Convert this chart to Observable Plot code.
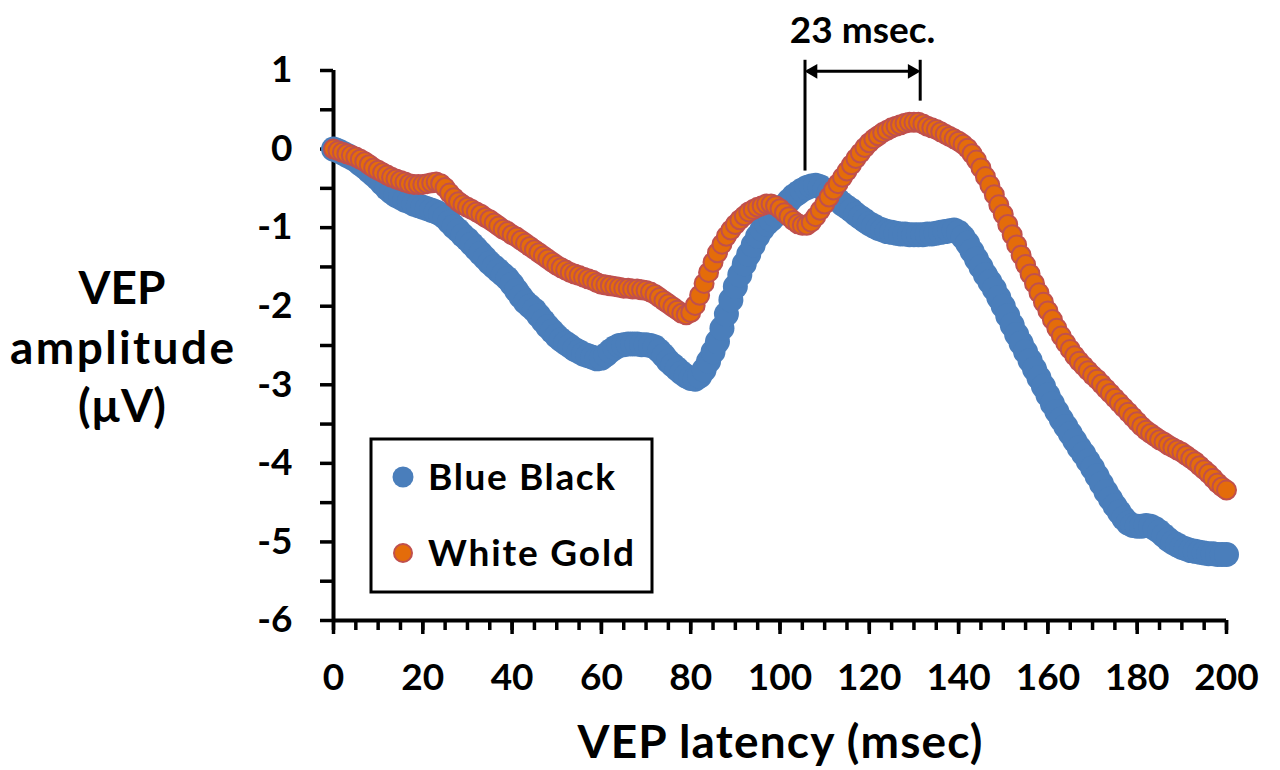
<!DOCTYPE html>
<html>
<head>
<meta charset="utf-8">
<script src="https://cdn.jsdelivr.net/npm/d3@7"></script>
<script src="https://cdn.jsdelivr.net/npm/@observablehq/plot@0.6"></script>
<style>
  html, body { margin: 0; padding: 0; background: #fff; }
  #chart { position: relative; width: 1280px; height: 770px; }
</style>
</head>
<body>
<div id="chart"></div>
<script>
// ---- Data ----
const latencyMs = d3.range(0, 201); // 0..200 msec, one sample per msec

const blueBlack = [
  0.00,-0.02,-0.05,-0.08,-0.11,-0.14,-0.19,-0.23,-0.28,-0.33,
  -0.38,-0.44,-0.50,-0.55,-0.59,-0.62,-0.65,-0.67,-0.70,-0.72,
  -0.74,-0.76,-0.78,-0.80,-0.83,-0.87,-0.93,-0.99,-1.04,-1.10,
  -1.15,-1.21,-1.27,-1.33,-1.39,-1.45,-1.50,-1.55,-1.60,-1.65,
  -1.72,-1.80,-1.88,-1.95,-2.00,-2.05,-2.12,-2.19,-2.26,-2.32,
  -2.38,-2.43,-2.47,-2.51,-2.55,-2.58,-2.61,-2.63,-2.65,-2.67,
  -2.66,-2.62,-2.57,-2.53,-2.50,-2.49,-2.48,-2.48,-2.48,-2.49,
  -2.49,-2.50,-2.52,-2.57,-2.63,-2.70,-2.75,-2.80,-2.85,-2.89,
  -2.92,-2.93,-2.89,-2.81,-2.70,-2.58,-2.45,-2.28,-2.10,-1.92,
  -1.75,-1.60,-1.46,-1.34,-1.22,-1.11,-1.02,-0.95,-0.90,-0.84,
  -0.78,-0.72,-0.66,-0.60,-0.56,-0.52,-0.49,-0.47,-0.46,-0.48,
  -0.52,-0.56,-0.60,-0.65,-0.70,-0.74,-0.78,-0.83,-0.87,-0.91,
  -0.95,-0.98,-1.01,-1.03,-1.05,-1.06,-1.07,-1.08,-1.08,-1.09,
  -1.09,-1.09,-1.09,-1.08,-1.08,-1.07,-1.06,-1.05,-1.04,-1.03,
  -1.06,-1.12,-1.20,-1.30,-1.40,-1.50,-1.60,-1.69,-1.78,-1.89,
  -2.00,-2.12,-2.24,-2.36,-2.47,-2.58,-2.69,-2.80,-2.91,-3.02,
  -3.13,-3.24,-3.34,-3.44,-3.53,-3.62,-3.71,-3.80,-3.88,-3.97,
  -4.06,-4.16,-4.26,-4.36,-4.45,-4.54,-4.62,-4.70,-4.76,-4.79,
  -4.80,-4.80,-4.79,-4.80,-4.83,-4.87,-4.92,-4.97,-5.01,-5.04,
  -5.07,-5.09,-5.11,-5.12,-5.13,-5.14,-5.15,-5.15,-5.16,-5.16,
  -5.16
];

const whiteGold = [
  0.00,-0.02,-0.04,-0.06,-0.08,-0.10,-0.13,-0.16,-0.20,-0.24,
  -0.27,-0.30,-0.33,-0.36,-0.38,-0.40,-0.42,-0.44,-0.45,-0.45,
  -0.45,-0.44,-0.43,-0.42,-0.44,-0.49,-0.56,-0.62,-0.67,-0.71,
  -0.74,-0.77,-0.80,-0.83,-0.87,-0.90,-0.94,-0.98,-1.02,-1.05,
  -1.09,-1.12,-1.16,-1.20,-1.24,-1.28,-1.32,-1.36,-1.40,-1.44,
  -1.48,-1.51,-1.54,-1.57,-1.59,-1.61,-1.63,-1.65,-1.67,-1.70,
  -1.72,-1.73,-1.74,-1.75,-1.76,-1.77,-1.77,-1.78,-1.78,-1.79,
  -1.80,-1.82,-1.85,-1.89,-1.93,-1.97,-2.01,-2.05,-2.09,-2.11,
  -2.08,-1.99,-1.86,-1.71,-1.57,-1.44,-1.32,-1.21,-1.11,-1.03,
  -0.96,-0.90,-0.85,-0.80,-0.77,-0.74,-0.72,-0.70,-0.70,-0.72,
  -0.76,-0.81,-0.86,-0.91,-0.95,-0.97,-0.97,-0.93,-0.86,-0.78,
  -0.70,-0.61,-0.52,-0.44,-0.36,-0.28,-0.20,-0.12,-0.05,0.02,
  0.08,0.13,0.17,0.21,0.24,0.27,0.29,0.31,0.33,0.34,
  0.34,0.34,0.32,0.29,0.27,0.25,0.22,0.19,0.16,0.13,
  0.10,0.06,0.01,-0.06,-0.14,-0.24,-0.35,-0.46,-0.58,-0.71,
  -0.83,-0.96,-1.09,-1.22,-1.35,-1.47,-1.59,-1.71,-1.83,-1.95,
  -2.06,-2.17,-2.28,-2.38,-2.47,-2.55,-2.63,-2.70,-2.76,-2.82,
  -2.88,-2.93,-2.99,-3.05,-3.11,-3.17,-3.23,-3.29,-3.35,-3.41,
  -3.47,-3.53,-3.58,-3.62,-3.66,-3.70,-3.73,-3.77,-3.80,-3.83,
  -3.86,-3.90,-3.94,-3.98,-4.03,-4.08,-4.13,-4.19,-4.25,-4.30,
  -4.34
];

const seriesNames = ["Blue Black", "White Gold"];
const yTicks = d3.range(-6, 1.001, 0.5);
const xMinorTicks = d3.range(0, 201, 5);
const xMajorTicks = d3.range(0, 201, 20);

// Latency-difference annotation (msec) and its label
const peakBlue = 105.6;   // msec, left bracket
const peakWhite = 131.4;  // msec, right bracket
const annotLabel = "23 msec.";

// ---- Build tables ----
const blueData = latencyMs.map((t, i) => ({t, v: blueBlack[i]}));
const goldData = latencyMs.map((t, i) => ({t, v: whiteGold[i]}));

const bracketLines = [
  {x: peakBlue, y1: 1.13, y2: -0.28},
  {x: peakWhite, y1: 1.13, y2: 0.61}
];
const arrowY = 0.99;
const arrowHeads = [
  {x: peakBlue + 1.8, rot: -90},
  {x: peakWhite - 1.8, rot: 90}
];

const BLUE = "#4a7ebb";
const ORANGE = "#e46c0a";
const ORANGE_STROKE = "#c0504d";

const plot = Plot.plot({
  width: 1280,
  height: 770,
  marginLeft: 333,
  marginRight: 54,
  marginTop: 70,
  marginBottom: 150,
  x: {domain: [0, 200]},
  y: {domain: [-6, 1]},
  style: {fontFamily: "Lato, 'Open Sans', sans-serif", fontWeight: 700, color: "#000", background: "#fff", overflow: "visible"},
  marks: [
    // axis lines
    Plot.ruleX([0], {stroke: "#000", strokeWidth: 4}),
    Plot.ruleY([-6], {stroke: "#000", strokeWidth: 4}),
    Plot.axisY({ticks: yTicks, tickSize: 13, tickPadding: 28, strokeWidth: 3.5,
      tickFormat: d => Number.isInteger(d) ? String(d) : "", fontSize: 37, fontWeight: 700}),
    Plot.axisX({ticks: xMinorTicks, tickSize: 10, strokeWidth: 3.5, tickFormat: () => ""}),
    Plot.axisX({ticks: xMajorTicks, tickSize: 14, tickPadding: 29, strokeWidth: 3.5,
      tickFormat: d => String(d), fontSize: 37, fontWeight: 700}),
    // series
    Plot.dot(blueData, {x: "t", y: "v", r: 12.5, fill: BLUE, stroke: "none"}),
    Plot.dot(goldData, {x: "t", y: "v", r: 9.5, fill: ORANGE, stroke: ORANGE_STROKE, strokeWidth: 2}),
    // annotation
    Plot.ruleX(bracketLines, {x: "x", y1: "y1", y2: "y2", stroke: "#000", strokeWidth: 3}),
    Plot.ruleY([arrowY], {x1: peakBlue + 0.6, x2: peakWhite - 0.6, stroke: "#000", strokeWidth: 3}),
    Plot.dot(arrowHeads, {x: "x", y: () => arrowY, symbol: "triangle", r: 5.5, rotate: "rot", fill: "#000", stroke: "none"}),
    Plot.text([annotLabel], {x: (peakBlue + peakWhite) / 2, y: 1.5, text: d => d, fontSize: 37, fontWeight: 700, fill: "#000"})
  ]
});

document.getElementById("chart").appendChild(plot);

// ---- Axis titles and legend (text) ----
const svg = d3.select(plot);
const titleFont = "Lato, 'Open Sans', sans-serif";
[["VEP", 304, null], ["amplitude", 364, 224], ["(\u00B5V)", 422, null]].forEach(([s, y, len]) => {
  const t = svg.append("text").attr("x", 122).attr("y", y).attr("text-anchor", "middle")
    .attr("font-family", titleFont).attr("font-size", 46).attr("font-weight", 700)
    .attr("fill", "#000").text(s);
  if (len) t.attr("textLength", len).attr("lengthAdjust", "spacing");
});
svg.append("text").attr("x", 780).attr("y", 758).attr("text-anchor", "middle")
  .attr("font-family", titleFont).attr("font-size", 46).attr("font-weight", 700)
  .attr("textLength", 405).attr("lengthAdjust", "spacing")
  .attr("fill", "#000").text("VEP latency (msec)");

const lg = svg.append("g");
lg.append("rect").attr("x", 371).attr("y", 439).attr("width", 281).attr("height", 153)
  .attr("fill", "#fff").attr("stroke", "#000").attr("stroke-width", 3);
const legendItems = [
  {name: seriesNames[0], fill: BLUE, stroke: "none", r: 10.5, y: 477, len: 187},
  {name: seriesNames[1], fill: ORANGE, stroke: ORANGE_STROKE, r: 9, y: 553, len: 206}
];
legendItems.forEach(d => {
  lg.append("circle").attr("cx", 403).attr("cy", d.y).attr("r", d.r)
    .attr("fill", d.fill).attr("stroke", d.stroke).attr("stroke-width", 2);
  lg.append("text").attr("x", 428).attr("y", d.y + 13).attr("text-anchor", "start")
    .attr("font-family", titleFont).attr("font-size", 37).attr("font-weight", 700)
    .attr("textLength", d.len).attr("lengthAdjust", "spacing")
    .attr("fill", "#000").text(d.name);
});
</script>
</body>
</html>
